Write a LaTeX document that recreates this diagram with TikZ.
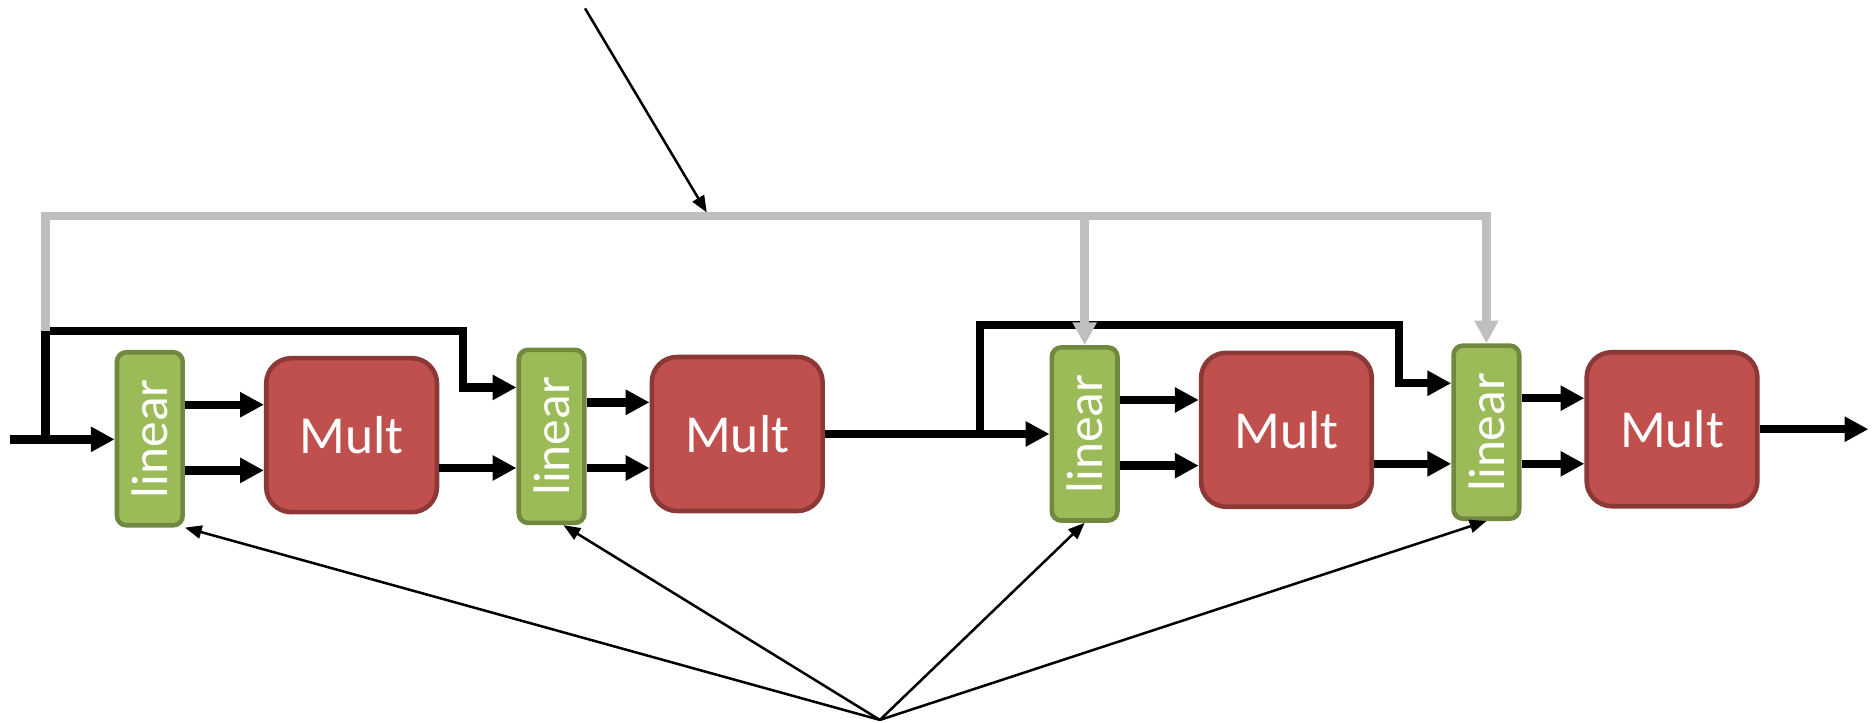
\documentclass[tikz,border=0pt]{standalone}
\usepackage{fontspec}
\usepackage{graphicx}
\setsansfont{Carlito}
\usetikzlibrary{arrows.meta,calc}
\definecolor{leaf}{HTML}{9BBB59}
\definecolor{leafrim}{HTML}{71893F}
\definecolor{brick}{HTML}{C0504D}
\definecolor{brickrim}{HTML}{8C3836}
\definecolor{busgray}{HTML}{BFBFBF}
\newcommand{\PortUp}{0.57cm}
\newcommand{\PortDn}{-0.53cm}
\newcommand{\PortTop}{0.82cm}

\begin{document}
\begin{tikzpicture}[x=0.02cm, y=-0.02cm, font=\sffamily,
    lin/.style={draw=leafrim, line width=2.2pt, fill=leaf, rounded corners=4.5pt, minimum width=1.10cm, minimum height=2.90cm, inner sep=0pt, text=white, font=\sffamily\fontsize{24.5}{28}\selectfont},
    mult/.style={draw=brickrim, line width=2.2pt, fill=brick, rounded corners=12pt, minimum width=2.86cm, minimum height=2.58cm, inner sep=0pt, text=white, font=\sffamily\fontsize{25.5}{30}\selectfont},
    flow/.style={-{Triangle[length=0.40cm,width=0.40cm]}, line width=4pt, draw=black},
    ctrl/.style={-{Triangle[length=0.38cm,width=0.38cm]}, line width=4.2pt, draw=busgray},
    pointer/.style={-{Triangle[length=0.28cm,width=0.22cm]}, line width=1.2pt, draw=black},
  ]
\useasboundingbox (0,0) rectangle (1568,605);

% --- Stages: linear, Mult ---------------------------------------------------
\node[lin] (lin1) at (125.5,367.5) {\rotatebox{90}{linear}};
\node[mult] (mult1) at (294.5,364.5) {Mult};
\node[lin] (lin2) at (462,365.5) {\rotatebox{90}{linear}};
\node[mult] (mult2) at (617.5,363.5) {Mult};
\node[lin] (lin3) at (908.5,363.5) {\rotatebox{90}{linear}};
\node[mult] (mult3) at (1077.5,360) {Mult};
\node[lin] (lin4) at (1245,362) {\rotatebox{90}{linear}};
\node[mult] (mult4) at (1400.5,359.5) {Mult};

% --- Free ends ----------------------------------------------------------------
\coordinate (in) at (8,368);
\coordinate (tap1) at (38,368);
\coordinate (knee1) at (388,277);
\coordinate (tap2) at (821,363.5);
\coordinate (knee2) at (1172,272);
\coordinate (busL) at (38,181);
\coordinate (out) at (1565,359.5);
\coordinate (src) at (490,7);
\coordinate (hit) at (592,178);
\coordinate (fan) at (737,603);

% --- Data flow ------------------------------------------------------------------
\draw[flow] (in) -- (in -| lin1.west);
\foreach \a/\b in {lin1/mult1, lin2/mult2, lin3/mult3, lin4/mult4} {
  \draw[flow] ([yshift=\PortUp]\a.east) -- ([yshift=\PortUp]\a.east -| \b.west);
  \draw[flow] ([yshift=\PortDn]\a.east) -- ([yshift=\PortDn]\a.east -| \b.west);
}
\draw[flow] ([yshift=\PortDn]lin2.west -| mult1.east) -- ([yshift=\PortDn]lin2.west);
\draw[flow] (mult2.east) -- (lin3.west);
\draw[flow] ([yshift=\PortDn]lin4.west -| mult3.east) -- ([yshift=\PortDn]lin4.west);
\draw[flow] (mult4.east) -- (out);

% bypasses
\draw[flow] (tap1) |- (knee1) |- ([yshift=\PortTop]lin2.west);
\draw[flow] (tap2) |- (knee2) |- ([yshift=\PortTop]lin4.west);

% --- Gray bus -------------------------------------------------------------------
\draw[ctrl] (tap1 |- knee1) |- (lin4.north |- busL) -- (lin4.north);
\draw[ctrl] (lin3.north |- busL) -- (lin3.north);

% --- Pointers ---------------------------------------------------------------------
\draw[pointer] (src) -- (hit);
\draw[pointer] (fan) -- (lin1.south east);
\draw[pointer] (fan) -- ([xshift=0.2cm]lin2.south);
\draw[pointer] (fan) -- (lin3.south);
\draw[pointer] (fan) -- (lin4.south);
\end{tikzpicture}
\end{document}
